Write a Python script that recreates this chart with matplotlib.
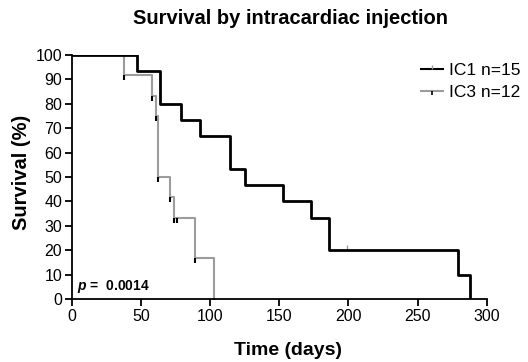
import matplotlib.pyplot as plt
from matplotlib.path import Path
from matplotlib.lines import Line2D

plt.rcParams['font.family'] = ['Liberation Sans', 'DejaVu Sans']
plt.rcParams['mathtext.fontset'] = 'custom'
plt.rcParams['mathtext.bfit'] = 'Liberation Sans:italic:bold'

# IC1: step curve (days, survival %)
ic1_days = [0, 47, 64, 79, 93, 114, 125, 153, 173, 186, 279, 288]
ic1_surv = [100, 93.3, 80, 73.3, 66.7, 53.3, 46.7, 40, 33.3, 20, 10, 0]
ic1_cens_days = [199]
ic1_cens_surv = [20]

# IC3: step curve
ic3_days = [0, 38, 58, 61, 62, 71, 74, 89, 103]
ic3_surv = [100, 91.7, 83.3, 75, 50, 41.7, 33.3, 16.7, 0]
ic3_tick_days = [38, 58, 61, 62, 71, 74, 76, 89, 103]
ic3_tick_surv = [91.7, 83.3, 75, 50, 41.7, 33.3, 33.3, 16.7, 0]

p_text = "0.0014"

tick_down = Path([(0, 0), (0, -1)], [Path.MOVETO, Path.LINETO])
tick_up = Path([(0, 0), (0, 1)], [Path.MOVETO, Path.LINETO])
gray = '#9c9c9c'

fig = plt.figure(figsize=(5.28, 3.62), dpi=100)
ax = fig.add_axes([0.136, 0.174, 0.786, 0.674])

ax.step(ic3_days, ic3_surv, where='post', color=gray, lw=1.5, zorder=2)
ax.plot(ic3_tick_days, ic3_tick_surv, ls='none', marker=tick_down, markersize=7,
        markeredgecolor='black', markeredgewidth=1.5, zorder=3)
ax.step(ic1_days, ic1_surv, where='post', color='black', lw=2, zorder=4)
ax.plot(ic1_cens_days, ic1_cens_surv, ls='none', marker=tick_up, markersize=7,
        markeredgecolor=gray, markeredgewidth=1, zorder=3)

ax.set_xlim(0, 300)
ax.set_ylim(0, 100)
ax.set_xticks(range(0, 301, 50))
ax.set_yticks(range(0, 101, 10))
ax.spines['top'].set_visible(False)
ax.spines['right'].set_visible(False)
ax.spines['left'].set_linewidth(1.3)
ax.spines['bottom'].set_linewidth(1.3)
ax.tick_params(labelsize=11.5, width=1.3, length=5, pad=2)

fig.text(0.551, 0.95, 'Survival by intracardiac injection', fontsize=14.5,
         fontweight='bold', ha='center', va='center')
fig.text(0.545, 0.033, 'Time (days)', fontsize=14, fontweight='bold',
         ha='center', va='center')
fig.text(0.04, 0.525, 'Survival (%)', fontsize=14.5, fontweight='bold',
         ha='center', va='center', rotation=90)

ax.text(4, 3.5, r'$\mathbfit{p}$ =  ' + p_text, fontsize=10, fontweight='bold')

handles = [
    Line2D([0], [0], color='black', lw=1.5, marker=tick_up, markersize=6,
           markeredgecolor=gray, markeredgewidth=1),
    Line2D([0], [0], color=gray, lw=1.5, marker=tick_down, markersize=6,
           markeredgecolor='black', markeredgewidth=1.2),
]
fig.legend(handles, ['IC1 n=15', 'IC3 n=12'], loc='center left',
           bbox_to_anchor=(0.797, 0.775), frameon=False, fontsize=12.5,
           handlelength=1.3, handletextpad=0.3, numpoints=1, labelspacing=0.35,
           borderaxespad=0, borderpad=0)

fig.savefig('out.png', dpi=100)
